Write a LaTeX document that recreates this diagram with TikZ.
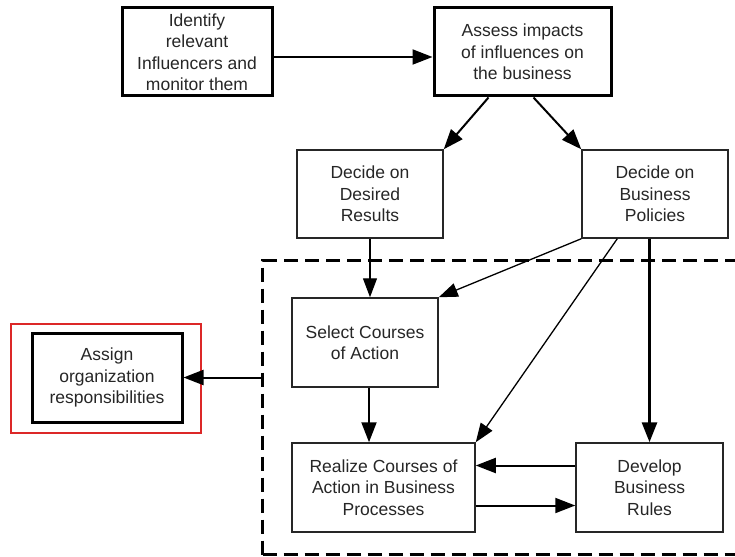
\documentclass[tikz,border=0pt]{standalone}
\usepackage{fontspec}
\setmainfont{Liberation Sans}
\usetikzlibrary{arrows.meta,calc}
\begin{document}
\begin{tikzpicture}[x=1pt,y=-1pt,
  txt/.style={align=center,font=\fontsize{17.5}{21.5}\selectfont,text=black!85,inner sep=2pt},
  thickbox/.style={txt,draw,line width=3pt},
  thinbox/.style={txt,draw,line width=1.5pt,draw=black!85},
  arr/.style={-{Triangle[length=20pt,width=15pt]},line width=2pt},
  arrthin/.style={-{Triangle[length=19pt,width=14pt]},line width=1.3pt},
  arrthick/.style={-{Triangle[length=20pt,width=15pt]},line width=3pt}]
\useasboundingbox (0,0) rectangle (735,556);
\node[thickbox,minimum width=150,minimum height=88] (b1) at (197,52) {Identify\\relevant\\Influencers and\\monitor them};
\node[thickbox,minimum width=177,minimum height=88] (b2) at (522.5,52) {Assess impacts\\of influences on\\the business};
\node[thinbox,minimum width=146,minimum height=88] (b3) at (370,194) {Decide on\\Desired\\Results};
\node[thinbox,minimum width=146,minimum height=88] (b4) at (655,194) {Decide on\\Business\\Policies};
\node[draw,dashed,dash pattern=on 14pt off 7pt,line width=3pt,minimum width=490,minimum height=294,anchor=north west] (grp) at (261,259) {};
\node[thinbox,minimum width=146,minimum height=89] (b5) at (365,342.5) {Select Courses\\of Action};
\node[thickbox,minimum width=150,minimum height=89] (b6) at (107,377.5) {Assign\\organization\\responsibilities};
\node[draw={rgb,255:red,220;green,40;blue,40},line width=2pt,minimum width=190,minimum height=109] (hl) at (106,378.5) {};
\node[thinbox,minimum width=183,minimum height=89] (b7) at (383.5,487.5) {Realize Courses of\\Action in Business\\Processes};
\node[thinbox,minimum width=147,minimum height=89] (b8) at (649.5,487.5) {Develop\\Business\\Rules};
% connectors
\draw[arr] ($(b1.east)+(0,5)$) -- ($(b2.west)+(0,5)$);
\draw[arr] ($(b2.south west)+(56,0)$) -- (b3.north east);
\draw[arr] ($(b2.south west)+(101,0)$) -- (b4.north west);
\draw[arrthin] (b3.south) -- (b3.south |- b5.north);
\draw[arrthin] (b4.south west) -- (b5.north east);
\draw[arrthin] ($(b4.south west)+(36,0)$) -- (b7.north east);
\draw[arrthick] (b4.south -| b8.north) -- (b8.north);
\draw[arr] ([xshift=4pt]b5.south) -- ([xshift=4pt]b5.south |- b7.north);
\draw[arr] ($(b8.west)+(0,-22)$) -- ($(b7.east)+(0,-22)$);
\draw[arr] ($(b7.east)+(0,18)$) -- ($(b8.west)+(0,18)$);
\draw[arr] (grp.west |- b6.east) -- (b6.east);
\end{tikzpicture}
\end{document}
